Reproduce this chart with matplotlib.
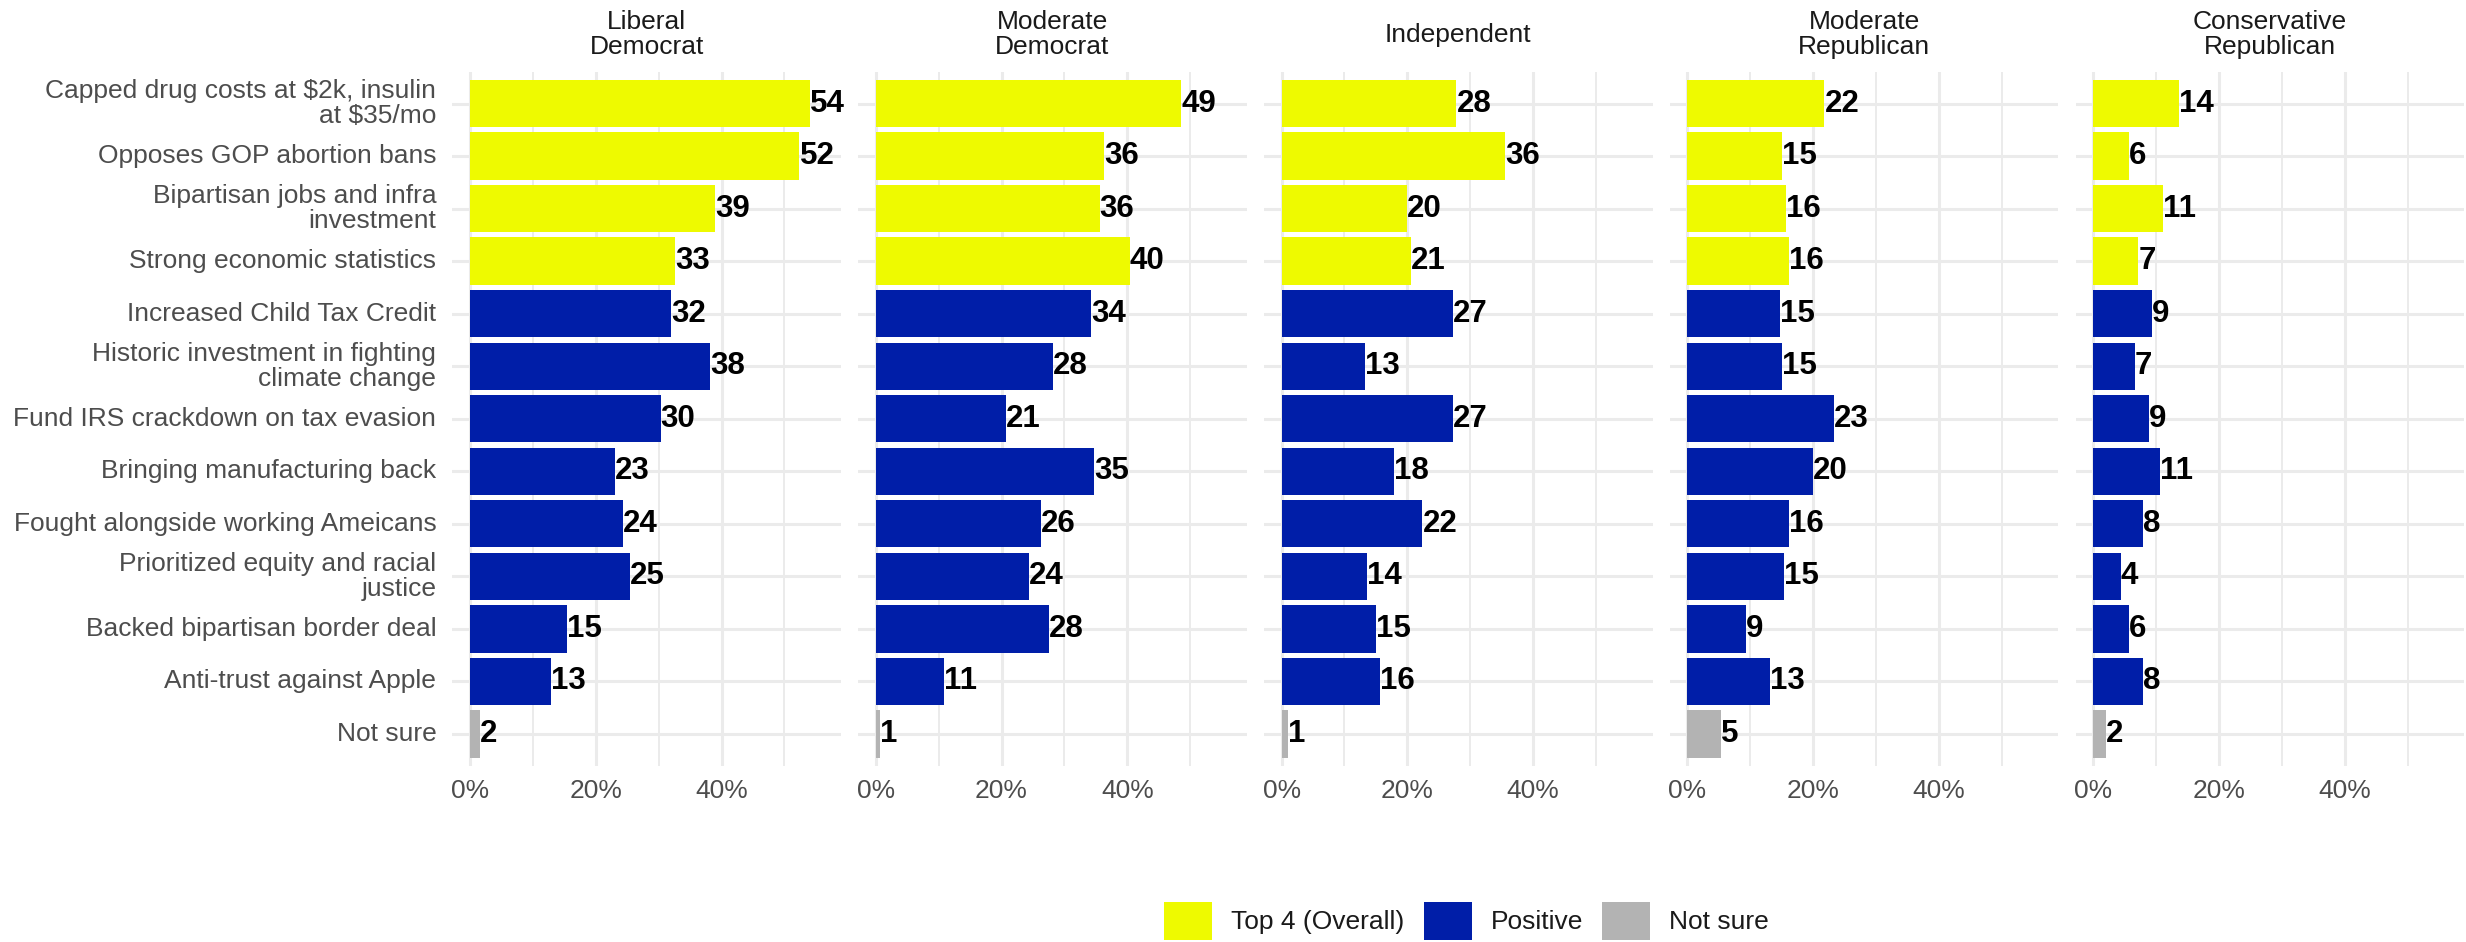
import matplotlib
matplotlib.use("Agg")
import matplotlib.pyplot as plt
from matplotlib.patches import Patch
from matplotlib.ticker import FuncFormatter

plt.rcParams['font.family'] = ['Liberation Sans', 'DejaVu Sans']

# ---------------- data ----------------
items = [
    "Capped drug costs at $2k, insulin\nat $35/mo",
    "Opposes GOP abortion bans",
    "Bipartisan jobs and infra\ninvestment",
    "Strong economic statistics",
    "Increased Child Tax Credit",
    "Historic investment in fighting\nclimate change",
    "Fund IRS crackdown on tax evasion",
    "Bringing manufacturing back",
    "Fought alongside working Ameicans",
    "Prioritized equity and racial\njustice",
    "Backed bipartisan border deal",
    "Anti-trust against Apple",
    "Not sure",
]
groups = ["Top 4 (Overall)"] * 4 + ["Positive"] * 8 + ["Not sure"]

segments = ["Liberal\nDemocrat", "Moderate\nDemocrat", "Independent",
            "Moderate\nRepublican", "Conservative\nRepublican"]

liberal_democrat = [54.1, 52.4, 39.0, 32.6, 32.0, 38.2, 30.3, 23.0, 24.3, 25.4, 15.4, 12.9, 1.6]
moderate_democrat = [48.6, 36.3, 35.6, 40.4, 34.2, 28.2, 20.7, 34.7, 26.2, 24.4, 27.6, 10.8, 0.6]
independent = [27.8, 35.6, 20.0, 20.6, 27.2, 13.3, 27.2, 17.8, 22.4, 13.6, 15.0, 15.7, 1.1]
moderate_republican = [21.8, 15.1, 15.7, 16.2, 14.7, 15.1, 23.3, 20.0, 16.1, 15.4, 9.3, 13.2, 5.4]
conservative_republican = [13.6, 5.7, 11.1, 7.2, 9.4, 6.6, 8.8, 10.7, 7.9, 4.4, 5.7, 8.0, 2.0]

series = [liberal_democrat, moderate_democrat, independent,
          moderate_republican, conservative_republican]

legend_order = ["Top 4 (Overall)", "Positive", "Not sure"]
colors = {"Top 4 (Overall)": "#EEFA00", "Positive": "#001EA8", "Not sure": "#B3B3B3"}

# ---------------- layout ----------------
W, H = 2466, 942
fig = plt.figure(figsize=(W / 100, H / 100), dpi=100)

panel_left0 = 452.3
panel_step = 405.8
panel_w = 388.7
panel_top = 72.0
panel_bot = 765.5
panel_h = panel_bot - panel_top

FS = 19
grid_col = "#EBEBEB"

for k, (seg, vals) in enumerate(zip(segments, series)):
    left = (panel_left0 + k * panel_step) / W
    ax = fig.add_axes([left, 1 - panel_bot / H, panel_w / W, panel_h / H])
    ypos = list(range(len(items)))
    ax.barh(ypos, vals, height=0.9, color=[colors[g] for g in groups],
            linewidth=0, zorder=2)
    for yi, v in zip(ypos, vals):
        ax.text(v, yi, f"{round(v)}", ha="left", va="center",
                fontsize=22.5, fontweight="bold", color="black", zorder=3)
    ax.set_xlim(-2.81, 59.0)
    ax.set_ylim(len(items) - 0.4, -0.6)
    ax.set_xticks([0, 20, 40])
    ax.set_xticks([10, 30, 50], minor=True)
    ax.xaxis.set_major_formatter(FuncFormatter(lambda x, p: f"{x:.0f}%"))
    ax.set_yticks(ypos)
    if k == 0:
        ax.set_yticklabels(items)
        for lab in ax.get_yticklabels():
            lab.set_linespacing(1.05)
            lab.set_verticalalignment("center")
    else:
        ax.set_yticklabels([])
    ax.set_axisbelow(True)
    ax.grid(which="major", axis="both", color=grid_col, lw=2.2, zorder=0)
    ax.grid(which="minor", axis="x", color=grid_col, lw=1.4, zorder=0)
    for s in ax.spines.values():
        s.set_visible(False)
    ax.tick_params(which="both", length=0)
    ax.tick_params(axis="x", labelsize=FS, labelcolor="#4D4D4D", pad=10)
    ax.tick_params(axis="y", labelsize=FS, labelcolor="#4D4D4D", pad=11.5)
    ax.text(0.5, 1 + (panel_top - 34.6) / panel_h, seg, transform=ax.transAxes,
            ha="center", va="center", fontsize=FS, color="#1A1A1A",
            linespacing=1.05)

handles = [Patch(facecolor=colors[g], edgecolor="none") for g in legend_order]
leg = fig.legend(handles, legend_order, loc="center",
                 bbox_to_anchor=(1466.5 / W, 1 - 921 / H), ncol=3, frameon=False,
                 fontsize=FS, handlelength=1.82, handleheight=1.82,
                 handletextpad=0.72, columnspacing=0.72, borderpad=0,
                 borderaxespad=0)
for t in leg.get_texts():
    t.set_color("#1A1A1A")

fig.savefig("out.png", dpi=100, facecolor="white")
